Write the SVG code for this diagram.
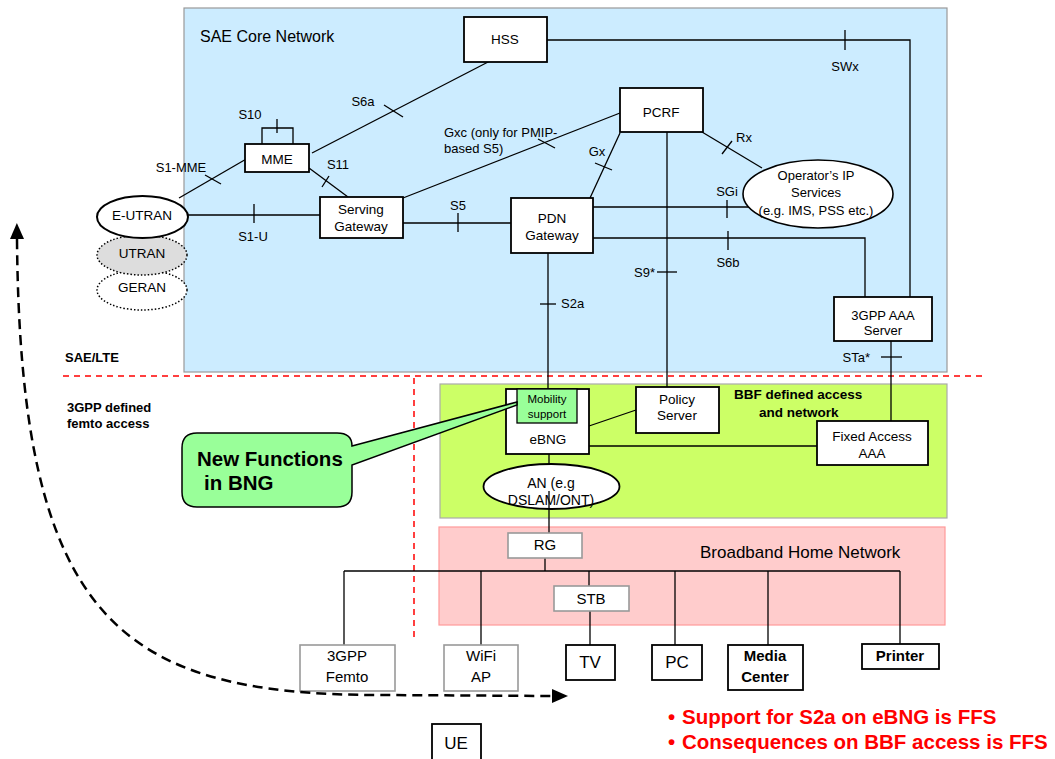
<svg xmlns="http://www.w3.org/2000/svg" width="1055" height="759" viewBox="0 0 1055 759">
  <defs>
    <style>
      text { font-family: "Liberation Sans", Arial, sans-serif; fill: #000; }
      .n { fill: #fff; stroke: #000; stroke-width: 1.8; }
      .g { fill: #fff; stroke: #999; stroke-width: 1.6; }
      .c { fill: none; stroke: #000; stroke-width: 1.3; }
      .t { font-size: 13.5px; text-anchor: middle; }
      .l { font-size: 13px; }
      .m { text-anchor: middle; }
      .e { text-anchor: end; }
      .h { font-size: 15px; text-anchor: middle; }
      .hb { font-size: 15px; font-weight: bold; text-anchor: middle; }
      .b { font-size: 13px; font-weight: bold; }
      .red { fill: none; stroke: #FF0000; stroke-width: 1.5; stroke-dasharray: 6 5; }
      .dot { stroke: #000; stroke-width: 1.5; stroke-dasharray: 1.5 2; }
      .note { font-size: 20.5px; font-weight: bold; fill: #FF0000; }
    </style>
    <marker id="ah" viewBox="0 0 16 14" refX="0" refY="7" markerWidth="16" markerHeight="14" markerUnits="userSpaceOnUse" orient="auto-start-reverse">
      <path d="M0,0 L16,7 L0,14 Z" fill="#000"/>
    </marker>
  </defs>

  <rect width="1055" height="759" fill="#fff"/>

  <!-- domain backgrounds -->
  <g id="regions">
    <rect x="184" y="8" width="763" height="364" fill="#CCECFF" stroke="#999" stroke-width="1.2"/>
    <rect x="440" y="384" width="507" height="134" fill="#CCFF66" stroke="#AAA" stroke-width="1.2"/>
    <rect x="439" y="527" width="506" height="98" fill="#FFCCCC" stroke="#FF9999" stroke-width="1.2"/>
    <text x="200" y="42" style="font-size:16px">SAE Core Network</text>
    <text x="734" y="399" class="b" style="font-size:13.5px">BBF defined access</text>
    <text x="759" y="417" class="b" style="font-size:13.5px">and network</text>
    <text x="700" y="558" style="font-size:17px">Broadband Home Network</text>
    <text x="65" y="362" class="b">SAE/LTE</text>
    <text x="67" y="412" class="b">3GPP defined</text>
    <text x="67" y="428" class="b">femto access</text>
  </g>

  <!-- boundaries between 3GPP and BBF parts -->
  <g id="boundaries">
    <line x1="63" y1="376" x2="985" y2="376" class="red"/>
    <line x1="414" y1="378" x2="414" y2="638" class="red"/>
  </g>

  <!-- interfaces -->
  <g id="connectors">
    <!-- S1-MME -->
    <line x1="179" y1="198" x2="248" y2="158" class="c"/>
    <line x1="205" y1="175" x2="221" y2="184" class="c"/>
    <!-- S10 loop -->
    <polyline points="262,144 262,128 293,128 293,144" class="c"/>
    <line x1="277" y1="119" x2="277" y2="133" class="c"/>
    <!-- S6a -->
    <line x1="312" y1="153" x2="490" y2="61" class="c"/>
    <line x1="384" y1="105" x2="403" y2="117" class="c"/>
    <!-- S11 -->
    <line x1="309" y1="168" x2="348" y2="197" class="c"/>
    <line x1="322" y1="187" x2="329" y2="176" class="c"/>
    <!-- S1-U -->
    <line x1="188" y1="215" x2="320" y2="215" class="c"/>
    <line x1="254" y1="204" x2="254" y2="223" class="c"/>
    <!-- S5 -->
    <line x1="403" y1="223" x2="511" y2="223" class="c"/>
    <line x1="458" y1="213" x2="458" y2="232" class="c"/>
    <!-- Gxc -->
    <line x1="403" y1="198" x2="620" y2="113" class="c"/>
    <line x1="538" y1="139" x2="555" y2="148" class="c"/>
    <!-- Gx -->
    <line x1="620" y1="133" x2="590" y2="198" class="c"/>
    <line x1="595" y1="163" x2="612" y2="170" class="c"/>
    <!-- Rx -->
    <line x1="702" y1="132" x2="762" y2="168" class="c"/>
    <line x1="722" y1="154" x2="732" y2="141" class="c"/>
    <!-- SGi -->
    <line x1="593" y1="207" x2="749" y2="207" class="c"/>
    <line x1="727" y1="200" x2="727" y2="218" class="c"/>
    <!-- S6b -->
    <polyline points="593,238 865,238 865,297" class="c"/>
    <line x1="728" y1="231" x2="728" y2="250" class="c"/>
    <!-- SWx -->
    <polyline points="547,40 910,40 910,297" class="c"/>
    <line x1="845" y1="30" x2="845" y2="50" class="c"/>
    <!-- S9* -->
    <line x1="667" y1="132" x2="667" y2="387" class="c"/>
    <line x1="657" y1="272" x2="677" y2="272" class="c"/>
    <!-- S2a -->
    <line x1="548" y1="253" x2="548" y2="389" class="c"/>
    <line x1="540" y1="304" x2="556" y2="304" class="c"/>
    <!-- STa* -->
    <line x1="891" y1="341" x2="891" y2="421" class="c"/>
    <line x1="881" y1="357" x2="902" y2="357" class="c"/>
    <!-- BBF access -->
    <line x1="589" y1="426" x2="636" y2="410" class="c"/>
    <line x1="589" y1="446" x2="817" y2="446" class="c"/>
    <line x1="549" y1="454" x2="549" y2="464" class="c"/>
    <!-- home network bus -->
    <line x1="344" y1="571" x2="900" y2="571" class="c"/>
    <line x1="545" y1="558" x2="545" y2="571" class="c"/>
    <line x1="344" y1="571" x2="344" y2="645" class="c"/>
    <line x1="481" y1="571" x2="481" y2="645" class="c" stroke="#444" stroke-width="1.6"/>
    <line x1="589" y1="571" x2="589" y2="586" class="c"/>
    <line x1="590" y1="611" x2="590" y2="645" class="c"/>
    <line x1="675" y1="571" x2="675" y2="645" class="c"/>
    <line x1="768" y1="571" x2="768" y2="645" class="c"/>
    <line x1="900" y1="571" x2="900" y2="644" class="c"/>
  </g>

  <!-- interface labels -->
  <g id="interface-labels" class="l">
    <text x="250" y="119" class="m">S10</text>
    <text x="363" y="106" class="m">S6a</text>
    <text x="181" y="172" class="m">S1-MME</text>
    <text x="338" y="169" class="m">S11</text>
    <text x="253" y="241" class="m">S1-U</text>
    <text x="458" y="210" class="m">S5</text>
    <text x="444" y="137">Gxc (only for PMIP-</text>
    <text x="444" y="153">based S5)</text>
    <text x="597" y="156" class="m">Gx</text>
    <text x="744" y="142" class="m">Rx</text>
    <text x="727" y="196" class="m">SGi</text>
    <text x="728" y="267" class="m">S6b</text>
    <text x="845" y="71" class="m">SWx</text>
    <text x="655" y="277" class="e">S9*</text>
    <text x="561" y="308">S2a</text>
    <text x="870" y="362" class="e">STa*</text>
  </g>

  <!-- radio access networks -->
  <g id="geran">
    <ellipse cx="142" cy="290" rx="45" ry="20" fill="#fff" class="dot"/>
    <text x="142" y="292" class="t">GERAN</text>
  </g>
  <g id="utran">
    <ellipse cx="142" cy="255" rx="45" ry="20" fill="#DDDDDD" class="dot"/>
    <text x="142" y="258" class="t">UTRAN</text>
  </g>
  <g id="e-utran">
    <ellipse cx="142.5" cy="217" rx="45.5" ry="21" fill="#fff" stroke="#000" stroke-width="2"/>
    <text x="142" y="220" class="t">E-UTRAN</text>
  </g>

  <!-- SAE core nodes -->
  <g id="hss">
    <rect x="464" y="17" width="83" height="45" class="n"/>
    <text x="505" y="44" class="t">HSS</text>
  </g>
  <g id="mme">
    <rect x="245" y="144" width="64" height="28" class="n"/>
    <text x="277" y="164" class="t">MME</text>
  </g>
  <g id="serving-gateway">
    <rect x="320" y="197" width="83" height="41" class="n"/>
    <text x="361" y="214" class="t">Serving</text>
    <text x="361" y="231" class="t">Gateway</text>
  </g>
  <g id="pcrf">
    <rect x="620" y="88" width="83" height="44" class="n"/>
    <text x="661" y="117" class="t">PCRF</text>
  </g>
  <g id="pdn-gateway">
    <rect x="511" y="198" width="82" height="55" class="n"/>
    <text x="552" y="223" class="t">PDN</text>
    <text x="552" y="240" class="t">Gateway</text>
  </g>
  <g id="operator-ip-services">
    <ellipse cx="818" cy="194" rx="75" ry="34" fill="#fff" stroke="#000" stroke-width="1.6"/>
    <text x="816" y="180" class="l m">Operator’s IP</text>
    <text x="816" y="197" class="l m">Services</text>
    <text x="816" y="215" class="l m">(e.g. IMS, PSS etc.)</text>
  </g>
  <g id="aaa-server">
    <rect x="834" y="297" width="98" height="44" class="n"/>
    <text x="883" y="320" class="l m">3GPP AAA</text>
    <text x="883" y="335" class="l m">Server</text>
  </g>

  <!-- BBF access nodes -->
  <g id="ebng">
    <rect x="506" y="389" width="83" height="65" class="n"/>
    <rect x="517" y="389" width="60" height="34" fill="#99FF99" stroke="#000" stroke-width="1.3"/>
    <text x="547" y="403" style="font-size:11.5px" class="m">Mobility</text>
    <text x="547" y="418" style="font-size:11.5px" class="m">support</text>
    <text x="548" y="444" class="t">eBNG</text>
  </g>
  <g id="policy-server">
    <rect x="636" y="387" width="83" height="46" class="n"/>
    <text x="677" y="404" class="t">Policy</text>
    <text x="677" y="420" class="t">Server</text>
  </g>
  <g id="fixed-access-aaa">
    <rect x="817" y="421" width="111" height="44" class="n"/>
    <text x="872" y="441" class="t">Fixed Access</text>
    <text x="872" y="458" class="t">AAA</text>
  </g>
  <g id="access-node">
    <ellipse cx="551.5" cy="486.5" rx="68" ry="22.5" fill="#fff" stroke="#000" stroke-width="1.8"/>
    <text x="551" y="488" style="font-size:14px" class="m">AN (e.g</text>
    <text x="551" y="505" style="font-size:14px" class="m">DSLAM/ONT)</text>
    <line x1="549" y1="491" x2="549" y2="533" class="c"/>
  </g>

  <!-- home network devices -->
  <g id="rg">
    <rect x="508" y="533" width="74" height="25" class="g"/>
    <text x="545" y="550" class="h">RG</text>
  </g>
  <g id="stb">
    <rect x="554" y="586" width="75" height="25" class="g"/>
    <text x="591" y="604" class="h">STB</text>
  </g>
  <g id="femto">
    <rect x="300" y="645" width="95" height="46" class="g"/>
    <text x="347" y="661" class="h">3GPP</text>
    <text x="347" y="682" class="h">Femto</text>
  </g>
  <g id="wifi-ap">
    <rect x="444" y="645" width="74" height="46" class="g"/>
    <text x="481" y="661" class="h">WiFi</text>
    <text x="481" y="682" class="h">AP</text>
  </g>
  <g id="tv">
    <rect x="566" y="645" width="49" height="35" class="n"/>
    <text x="590" y="668" style="font-size:17px" class="m">TV</text>
  </g>
  <g id="pc">
    <rect x="652" y="645" width="50" height="35" class="n"/>
    <text x="677" y="668" style="font-size:17px" class="m">PC</text>
  </g>
  <g id="media-center">
    <rect x="728" y="645" width="75" height="45" class="n"/>
    <text x="765" y="661" class="hb">Media</text>
    <text x="765" y="682" class="hb">Center</text>
  </g>
  <g id="printer">
    <rect x="862" y="644" width="77" height="25" class="n"/>
    <text x="900" y="661" class="hb">Printer</text>
  </g>
  <g id="ue">
    <rect x="432" y="724" width="49" height="40" class="n"/>
    <text x="456" y="749" style="font-size:17px" class="m">UE</text>
  </g>

  <!-- mobility between femto access and home devices -->
  <g id="mobility-arrow">
    <path d="M17,239 C20,620 120,695 380,695 L552,696" fill="none" stroke="#000" stroke-width="2.5" stroke-dasharray="10 6" marker-start="url(#ah)" marker-end="url(#ah)"/>
  </g>

  <!-- callout -->
  <g id="callout">
    <path d="M197,433 H337 Q352,433 352,446 L517,402 L517,405 L352,465 V492 Q352,507 337,507 H197 Q182,507 182,492 V448 Q182,433 197,433 Z" fill="#99FF99" stroke="#000" stroke-width="1.5"/>
    <text x="197" y="466" style="font-size:20.5px;font-weight:bold">New Functions</text>
    <text x="204" y="490" style="font-size:20.5px;font-weight:bold">in BNG</text>
  </g>

  <!-- notes -->
  <g id="notes">
    <text x="668" y="724" class="note">•</text>
    <text x="682" y="724" class="note">Support for S2a on eBNG is FFS</text>
    <text x="668" y="749" class="note">•</text>
    <text x="682" y="749" class="note">Consequences on BBF access is FFS</text>
  </g>
</svg>
